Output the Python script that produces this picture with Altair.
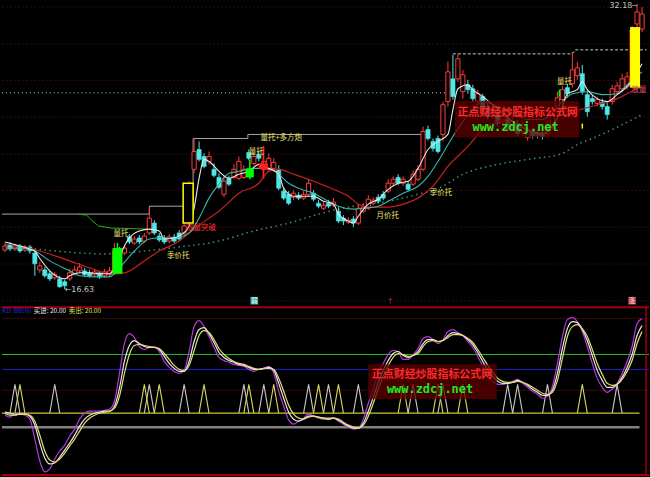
import altair as alt
import numpy as np
import pandas as pd

# ---------------- daily bars ----------------
OPEN = [18.76, 19.04, 18.82, 18.98, 18.76, 18.93, 18.60, 17.68, 17.68, 17.47,
        17.25, 17.19, 17.03, 17.19, 17.47, 17.63, 17.63, 17.52, 17.41, 17.52,
        17.36, 17.41, 17.52, 18.82, 18.60, 19.47, 19.14, 19.42, 19.25, 19.69,
        20.23, 19.52, 19.42, 19.25, 19.47, 19.69, 19.69, 20.28, 23.16, 24.24,
        23.86, 23.59, 23.16, 22.72, 21.80, 22.67, 22.72, 22.67, 22.72, 24.08,
        23.48, 23.97, 23.16, 23.16, 23.21, 23.16, 21.97, 21.80, 21.64, 21.75,
        21.59, 21.80, 21.86, 21.31, 21.04, 21.31, 21.21, 20.88, 20.50, 20.28,
        20.45, 20.23, 20.88, 21.04, 21.31, 21.64, 21.80, 21.97, 22.40, 22.72,
        22.40, 22.35, 22.35, 22.62, 23.16, 25.33, 24.68, 24.84, 25.06, 26.85,
        28.09, 28.09, 27.39, 27.77, 27.55, 26.85, 27.12, 26.58, 26.09, 26.20,
        25.76, 25.87, 25.44, 25.65, 25.22, 24.89, 25.22, 25.16, 25.11, 25.11,
        25.54, 26.30, 26.96, 27.61, 27.82, 28.26, 28.37, 27.23, 27.01, 26.74,
        26.79, 26.58, 26.85, 27.39, 27.55, 27.66, 27.71, 31.08, 30.80]
HIGH = [19.14, 19.20, 19.09, 19.09, 19.04, 19.04, 18.82, 18.12, 17.84, 17.63,
        17.57, 17.36, 17.14, 17.74, 17.90, 18.06, 17.79, 17.68, 17.74, 17.63,
        17.74, 17.84, 19.14, 18.93, 19.04, 19.63, 19.52, 19.58, 19.69, 21.04,
        20.39, 19.69, 19.58, 19.63, 19.63, 19.85, 20.23, 22.51, 24.84, 24.68,
        24.03, 24.13, 23.48, 22.94, 22.78, 22.83, 23.43, 23.86, 23.38, 24.24,
        24.13, 24.13, 24.41, 24.03, 23.76, 23.38, 22.18, 21.97, 22.02, 21.91,
        21.97, 22.62, 22.02, 21.48, 21.37, 21.48, 21.59, 21.10, 20.66, 20.55,
        20.61, 21.26, 21.31, 21.75, 21.64, 21.80, 21.97, 22.62, 22.78, 22.89,
        22.78, 22.51, 23.10, 23.38, 25.49, 25.54, 24.84, 25.00, 26.85, 29.02,
        29.40, 29.45, 28.58, 28.04, 27.77, 27.50, 27.28, 26.85, 26.63, 26.41,
        26.30, 26.09, 25.98, 25.87, 25.76, 25.49, 25.38, 25.33, 25.27, 25.76,
        26.41, 27.39, 27.71, 27.82, 29.56, 29.02, 28.85, 27.44, 27.17, 27.12,
        27.01, 26.79, 27.77, 27.93, 28.37, 28.47, 30.97, 32.18, 32.00]
LOW = [18.66, 18.71, 18.71, 18.60, 18.66, 18.55, 17.36, 17.52, 17.25, 17.08,
       17.14, 16.71, 16.63, 17.08, 17.36, 17.52, 17.30, 17.25, 17.30, 17.19,
       17.25, 17.30, 17.41, 18.39, 18.49, 19.09, 19.04, 19.09, 19.14, 19.58,
       19.58, 19.20, 19.09, 19.14, 19.14, 19.25, 19.58, 20.18, 22.94, 23.59,
       23.21, 23.43, 22.72, 22.07, 21.64, 22.24, 22.62, 22.56, 22.62, 23.65,
       23.38, 23.59, 22.67, 23.05, 23.05, 22.02, 21.48, 21.21, 21.48, 21.48,
       21.48, 21.69, 21.42, 21.04, 20.94, 21.04, 21.10, 20.23, 20.12, 20.18,
       20.01, 20.12, 20.77, 20.94, 21.21, 21.31, 21.48, 21.86, 22.24, 22.29,
       22.24, 21.97, 22.24, 22.51, 23.05, 24.73, 24.13, 24.03, 24.68, 26.58,
       26.96, 27.93, 27.01, 27.28, 26.85, 26.63, 26.20, 25.87, 25.92, 25.49,
       25.54, 25.22, 25.22, 24.95, 25.00, 24.73, 24.84, 24.84, 24.79, 24.95,
       25.33, 26.14, 26.74, 27.06, 27.61, 28.04, 27.23, 26.03, 26.68, 26.58,
       26.41, 25.87, 26.68, 27.28, 27.39, 27.50, 27.61, 30.86, 30.64]
CLOSE = [18.98, 18.82, 18.98, 18.71, 18.93, 18.71, 18.01, 17.90, 17.36, 17.19,
         17.41, 16.76, 16.81, 17.52, 17.68, 17.84, 17.41, 17.36, 17.57, 17.30,
         17.57, 17.63, 18.71, 18.55, 18.87, 19.20, 19.36, 19.20, 19.52, 20.50,
         19.69, 19.31, 19.20, 19.47, 19.25, 19.36, 20.07, 22.35, 24.13, 23.70,
         23.32, 23.86, 22.83, 22.18, 22.51, 22.35, 23.16, 23.59, 23.16, 23.76,
         23.86, 23.76, 23.59, 23.76, 23.54, 22.13, 21.59, 21.31, 21.86, 21.59,
         21.80, 22.40, 21.53, 21.15, 21.21, 21.15, 21.37, 20.34, 20.34, 20.39,
         20.23, 21.04, 21.10, 21.53, 21.48, 21.42, 21.59, 22.40, 22.62, 22.40,
         22.62, 22.07, 22.89, 23.16, 25.22, 24.84, 24.30, 24.13, 26.68, 28.47,
         27.12, 29.18, 28.31, 27.50, 27.01, 27.28, 26.41, 26.03, 26.41, 25.65,
         26.09, 25.33, 25.76, 25.11, 25.54, 25.22, 25.00, 25.00, 24.95, 25.54,
         26.20, 27.06, 27.50, 27.28, 28.58, 28.69, 27.39, 26.30, 26.85, 26.96,
         26.58, 26.14, 27.55, 27.71, 28.09, 28.20, 30.75, 31.73, 31.62]

# ---------------- moving averages (bar index, price) ----------------
MA5_I = [0, 3, 5, 6, 7, 9, 11, 12, 13, 15, 17, 19, 21, 23, 24, 25, 27, 29, 31, 32,
         34, 35, 37, 38, 39, 40, 41, 43, 45, 47, 49, 51, 53, 55, 56, 58, 60, 62, 64, 66,
         67, 69, 70, 71, 73, 75, 77, 79, 81, 83, 85, 87, 89, 90, 91, 93, 94, 96, 98, 100,
         102, 104, 106, 108, 110, 112, 113, 115, 116, 117, 119, 121, 123, 125, 128]
MA5_V = [19.20, 18.98, 18.82, 18.71, 18.30, 17.63, 17.25, 17.19, 17.36, 17.52,
         17.52, 17.47, 17.47, 18.33, 18.98, 19.42, 19.80, 19.90, 19.80, 19.36,
         19.42, 19.52, 20.07, 21.04, 22.67, 23.70, 23.59, 23.05, 22.67, 22.89,
         23.05, 23.43, 23.21, 22.89, 22.13, 21.69, 21.69, 21.69, 21.42, 21.26,
         20.72, 20.34, 20.23, 20.61, 21.26, 21.53, 22.07, 22.40, 22.51, 23.21,
         24.24, 24.68, 25.06, 26.41, 27.55, 27.77, 27.50, 27.12, 26.68, 26.20,
         25.76, 25.44, 25.22, 25.11, 25.49, 26.58, 27.28, 27.50, 27.93, 27.50,
         27.01, 26.85, 27.23, 27.66, 28.91]
MA10_I = [0, 3, 6, 9, 13, 15, 18, 21, 23, 26, 29, 31, 34, 37, 39, 41, 43, 45, 47, 50,
          53, 55, 57, 59, 62, 65, 67, 70, 72, 75, 77, 80, 83, 85, 87, 90, 92, 94, 96, 99,
          102, 105, 108, 111, 114, 117, 120, 123, 125, 128]
MA10_V = [18.87, 18.87, 18.71, 18.17, 17.63, 17.36, 17.30, 17.30, 17.79, 18.71,
          19.36, 19.42, 19.42, 19.69, 20.50, 21.59, 22.35, 22.94, 23.05, 23.21,
          23.21, 22.89, 22.40, 22.13, 21.86, 21.42, 21.15, 20.99, 21.04, 21.15,
          21.42, 21.86, 22.24, 22.78, 23.59, 24.95, 25.76, 26.41, 26.85, 26.58,
          26.20, 25.87, 25.87, 26.58, 27.28, 27.39, 27.23, 27.28, 27.77, 28.47]
MA30_I = [0, 3, 7, 13, 17, 21, 24, 28, 31, 35, 37, 41, 43, 47, 51, 53, 55, 58, 62, 66,
          69, 71, 73, 77, 80, 83, 86, 89, 93, 96, 100, 104, 109, 113, 119, 123, 127, 128]
MA30_V = [19.09, 18.98, 18.71, 18.17, 17.79, 17.47, 17.52, 18.17, 18.71, 19.25,
          19.69, 20.50, 20.88, 21.86, 22.40, 23.05, 23.16, 22.89, 22.51, 22.07,
          21.69, 21.26, 21.10, 21.10, 21.26, 21.59, 22.24, 23.32, 24.41, 25.33,
          25.87, 26.14, 26.30, 26.30, 26.68, 27.01, 27.55, 27.66]
MA60_I = [0, 10, 20, 28, 35, 43, 50, 57, 63, 70, 77, 83, 87, 92, 99, 105, 112, 115, 118, 122, 128]
MA60_V = [19.04, 18.71, 18.55, 18.71, 18.93, 19.25, 19.80, 20.23, 20.72, 21.15,
          21.42, 21.80, 22.10, 22.89, 23.43, 23.70, 24.03, 24.51, 24.84, 25.33, 26.14]

# ---------------- support / pressure levels ----------------
STEP_I = [-0.6, 29, 29, 37.8, 37.8, 48.8, 48.8, 83.8]
STEP_P = [20.72, 20.72, 21.15, 21.15, 24.84, 24.84, 25.06, 25.06]
TOPSTEP_I = [90, 114, 114.6, 128.9]
TOPSTEP_P = [29.45, 29.45, 29.67, 29.67]
SUPPORT_I = [14.8, 16.4, 17.4, 18.8, 21.4, 28.8]
SUPPORT_P = [20.72, 20.66, 20.39, 20.07, 19.96, 19.90]
PREV_HIGH = 27.33
PREV_HIGH_END = 91
GRID_P = [16, 18, 20, 22, 24, 26, 28, 30, 32]

# ---------------- signal boxes ----------------
BOX_I0 = [21.6, 48.4, 51.0, 125.6]
BOX_I1 = [23.6, 50.0, 52.8, 127.6]
BOX_LO = [17.47, 22.72, 23.16, 27.61]
BOX_HI = [18.87, 23.21, 23.48, 30.91]
BOX_COL = ["#00ff00", "#00ff00", "#ff2020", "#ffff00"]
BOX_WICK_I = [22.6, 49.2, 51.9]
BOX_WICK_LO = [18.87, 22.62, 22.67]
BOX_WICK_HI = [19.14, 23.70, 24.41]
BOX_WICK_COL = ["#00ff00", "#00ff00", "#ff2020"]
OUTLINE_I0, OUTLINE_I1, OUTLINE_LO, OUTLINE_HI = 35.8, 37.8, 20.23, 22.40

# ---------------- annotations ----------------
LABEL_TEXT = ["量托", "季价托", "放量突破", "量托+多方炮", "量托", "月价托", "季价托", "量托", "放量"]
LABEL_I = [23.3, 34.8, 39.4, 55.5, 50.5, 76.9, 87.6, 112.4, 127.4]
LABEL_P = [19.63, 18.44, 19.96, 24.84, 24.13, 20.61, 21.86, 27.93, 27.50]
LABEL_COL = ["#e8e070", "#e8e070", "#ff3030", "#e8e070", "#e8e070", "#e8e070",
             "#e8e070", "#e8e070", "#e05060"]

# ---------------- KDJ panel ----------------
KDJ_J = [18, 16, 20, 19, 18, 14, -6, -28, -39, -36, -26, -18, -12, -3, 4, 14, 20, 22, 22, 22,
         23, 24, 32, 60, 90, 100, 96, 87, 84, 86, 87, 82, 72, 66, 62, 60, 63, 82, 107, 113,
         107, 97, 86, 76, 73, 71, 69, 68, 67, 64, 62, 64, 65, 67, 60, 42, 27, 13, 9, 12,
         15, 19, 17, 15, 14, 14, 15, 12, 9, 6, 4, 5, 14, 30, 44, 60, 70, 79, 83, 82,
         74, 74, 79, 85, 95, 97, 94, 90, 94, 102, 104, 101, 98, 92, 86, 77, 67, 57, 52, 49,
         49, 50, 52, 54, 50, 46, 42, 39, 35, 37, 47, 70, 97, 114, 116, 112, 102, 87, 70, 55,
         46, 41, 44, 50, 60, 72, 87, 110, 115]
KDJ_K = [20, 18, 18, 19, 19, 17, 8, -10, -25, -31, -30, -24, -17, -10, -2, 7, 14, 18, 20, 21,
         22, 22, 27, 45, 72, 88, 93, 90, 87, 86, 86, 84, 77, 70, 65, 62, 62, 72, 92, 104,
         106, 100, 91, 81, 76, 73, 71, 69, 68, 66, 64, 64, 65, 66, 63, 50, 35, 21, 14, 12,
         14, 17, 17, 16, 15, 14, 15, 13, 10, 7, 5, 5, 10, 22, 36, 51, 63, 73, 80, 82,
         78, 76, 78, 82, 90, 94, 94, 92, 93, 98, 101, 100, 98, 94, 89, 81, 72, 63, 57, 52,
         50, 50, 51, 53, 51, 48, 44, 41, 38, 38, 43, 60, 85, 105, 112, 111, 104, 93, 78, 63,
         53, 46, 46, 49, 56, 66, 79, 98, 108]
KDJ_D = [21, 20, 19, 19, 19, 18, 12, -2, -18, -27, -29, -26, -20, -13, -6, 2, 10, 15, 18, 20,
         21, 22, 25, 37, 60, 79, 88, 89, 88, 87, 86, 85, 80, 74, 68, 64, 63, 68, 83, 98,
         103, 101, 94, 85, 79, 75, 72, 70, 69, 67, 65, 64, 65, 65, 64, 55, 42, 28, 19, 15,
         14, 16, 17, 16, 15, 15, 15, 14, 11, 8, 6, 5, 8, 17, 30, 44, 57, 68, 76, 80,
         79, 77, 78, 80, 87, 92, 93, 92, 93, 96, 99, 99, 98, 95, 91, 84, 76, 68, 61, 55,
         52, 51, 51, 52, 51, 49, 46, 43, 40, 39, 41, 53, 75, 97, 107, 109, 105, 97, 84, 70,
         59, 50, 48, 49, 54, 62, 73, 90, 102]
BUY_SIGNALS = [2, 10, 29, 36, 48, 52, 61, 65, 71, 82, 88, 101, 103, 109, 123]
SELL_SIGNALS = [3, 28, 31, 40, 49, 54, 63, 67, 80, 87, 92, 116]
SIGNAL_BASE, SIGNAL_TOP = 20, 49
BUY_LEVEL, SELL_LEVEL = 20.00, 20.00
LEVEL_V = [115, 79, 64, 43]
LEVEL_COL = ["#3a0808", "#20c020", "#2020d0", "#3a0808"]

# ---------------- layout ----------------
W, H_TOP, H_BOT = 650, 305, 172
xs = alt.Scale(domain=[-0.6, 129.4], nice=False, zero=False)
ps = alt.Scale(domain=[15.729, 32.271], nice=False, zero=False)
ks = alt.Scale(domain=[-45, 127], nice=False, zero=False)
RED, CYAN = "#ff3c3c", "#4fe8e8"
CJK = "Noto Sans CJK SC"


def X(f):
    return alt.X(f, scale=xs, axis=None)


def Y(f):
    return alt.Y(f, scale=ps, axis=None)


def K(f):
    return alt.Y(f, scale=ks, axis=None)


bars = pd.DataFrame({"i": np.arange(len(OPEN)), "o": OPEN, "h": HIGH, "l": LOW, "c": CLOSE})
bars["bt"] = bars[["o", "c"]].max(axis=1)
bars["bb"] = bars[["o", "c"]].min(axis=1)
bars["xl"] = bars["i"] - 0.42
bars["xr"] = bars["i"] + 0.42
up = bars[bars.c >= bars.o]
down = bars[bars.c < bars.o]

grid = alt.Chart(pd.DataFrame({"p": GRID_P})).mark_rule(
    color="#3a0808", strokeWidth=1, strokeDash=[2, 2]).encode(y=Y("p:Q"))
prev_high = alt.Chart(pd.DataFrame({"a": [-0.6], "b": [PREV_HIGH_END], "p": [PREV_HIGH]})).mark_rule(
    color="#d0d0d0", strokeWidth=1, strokeDash=[1, 3]).encode(x=X("a:Q"), x2="b:Q", y=Y("p:Q"))


def path(ix, vals, color, dash=None, width=1.0, interp="linear"):
    df = pd.DataFrame({"i": ix, "v": vals, "o": np.arange(len(ix))})
    kw = dict(color=color, strokeWidth=width, interpolate=interp)
    if dash:
        kw["strokeDash"] = dash
    return alt.Chart(df).mark_line(**kw).encode(x=X("i:Q"), y=Y("v:Q"), order="o:Q")


step = path(STEP_I, STEP_P, "#a8a8a8")
topstep = path(TOPSTEP_I, TOPSTEP_P, "#c8c8c8", dash=[3, 2])
support = path(SUPPORT_I, SUPPORT_P, "#20b020")
ma60 = path(MA60_I, MA60_V, "#3f8f6f", dash=[1.5, 3.5], width=1.5, interp="monotone")

wick_up = alt.Chart(up).mark_rule(color=RED, strokeWidth=1).encode(x=X("i:Q"), y=Y("l:Q"), y2="h:Q")
wick_dn = alt.Chart(down).mark_rule(color=CYAN, strokeWidth=1).encode(x=X("i:Q"), y=Y("l:Q"), y2="h:Q")
body_up = alt.Chart(up).mark_rect(fill="black", stroke=RED, strokeWidth=1).encode(
    x=X("xl:Q"), x2="xr:Q", y=Y("bb:Q"), y2="bt:Q")
body_dn = alt.Chart(down).mark_rect(fill=CYAN, stroke=CYAN, strokeWidth=0.6).encode(
    x=X("xl:Q"), x2="xr:Q", y=Y("bb:Q"), y2="bt:Q")

ma30 = path(MA30_I, MA30_V, "#c82020", width=1.2, interp="monotone")
ma10 = path(MA10_I, MA10_V, "#38b8a8", width=1.1, interp="monotone")
ma5 = path(MA5_I, MA5_V, "#e8e8e8", width=1.1, interp="monotone")

boxes = alt.Chart(pd.DataFrame({"a": BOX_I0, "b": BOX_I1, "lo": BOX_LO, "hi": BOX_HI, "c": BOX_COL})).mark_rect().encode(
    x=X("a:Q"), x2="b:Q", y=Y("lo:Q"), y2="hi:Q", fill=alt.Color("c:N", scale=None))
box_wicks = alt.Chart(pd.DataFrame({"i": BOX_WICK_I, "lo": BOX_WICK_LO, "hi": BOX_WICK_HI, "c": BOX_WICK_COL})).mark_rule(
    strokeWidth=1.5).encode(x=X("i:Q"), y=Y("lo:Q"), y2="hi:Q", color=alt.Color("c:N", scale=None))
outline = alt.Chart(pd.DataFrame({"a": [OUTLINE_I0], "b": [OUTLINE_I1], "lo": [OUTLINE_LO], "hi": [OUTLINE_HI]})).mark_rect(
    fill="black", stroke="#ffff00", strokeWidth=1.5).encode(x=X("a:Q"), x2="b:Q", y=Y("lo:Q"), y2="hi:Q")
sticks = alt.Chart(pd.DataFrame({"i": [111.4, 116.0], "lo": [27.12, 25.38], "hi": [27.50, 25.65],
                                 "c": ["#00ff00", "#ffff00"]})).mark_rule(strokeWidth=1.5).encode(
    x=X("i:Q"), y=Y("lo:Q"), y2="hi:Q", color=alt.Color("c:N", scale=None))

labels = alt.Chart(pd.DataFrame({"i": LABEL_I, "p": LABEL_P, "t": LABEL_TEXT, "c": LABEL_COL})).mark_text(
    font=CJK, fontSize=7.5, align="center", baseline="middle").encode(
    x=X("i:Q"), y=Y("p:Q"), text="t:N", color=alt.Color("c:N", scale=None))

lo_i = int(np.argmin(LOW))
hi_i = int(np.argmax(HIGH))
low_tag = alt.Chart(pd.DataFrame({"i": [lo_i], "p": [LOW[lo_i]], "t": [f"←{LOW[lo_i]:.2f}"]})).mark_text(
    font="DejaVu Sans", fontSize=8, align="left", baseline="top", color="#c8c8c8", dy=-3).encode(
    x=X("i:Q"), y=Y("p:Q"), text="t:N")
high_tag = alt.Chart(pd.DataFrame({"i": [hi_i], "p": [HIGH[hi_i]], "t": [f"{HIGH[hi_i]:.2f}─"]})).mark_text(
    font="DejaVu Sans", fontSize=8, align="right", baseline="middle", color="#c8c8c8", dy=2).encode(
    x=X("i:Q"), y=Y("p:Q"), text="t:N")

marks_sq = alt.Chart(pd.DataFrame({"i": [50.1, 126.0], "p": [16.0, 16.0], "c": ["#3aa0a0", "#b03848"]})).mark_square(
    size=60, opacity=1).encode(x=X("i:Q"), y=Y("p:Q"), color=alt.Color("c:N", scale=None))
marks_tx = alt.Chart(pd.DataFrame({"i": [50.1, 77.4, 126.0], "p": [16.0, 15.95, 16.0], "t": ["弱", "↑", "涨"],
                                   "c": ["#e0ffff", "#ff3030", "#ffe0e0"]})).mark_text(
    font=CJK, fontSize=6.5, align="center", baseline="middle").encode(
    x=X("i:Q"), y=Y("p:Q"), text="t:N", color=alt.Color("c:N", scale=None))


def watermark(scale, i0, i1, v0, v1, ri, rv, gi, gv):
    yenc = (lambda f: alt.Y(f, scale=scale, axis=None))
    box = alt.Chart(pd.DataFrame({"a": [i0], "b": [i1], "lo": [v0], "hi": [v1]})).mark_rect(
        fill="#5a0000", opacity=0.78).encode(x=X("a:Q"), x2="b:Q", y=yenc("lo:Q"), y2="hi:Q")
    red = alt.Chart(pd.DataFrame({"i": [ri], "v": [rv], "t": ["正点财经炒股指标公式网"]})).mark_text(
        font=CJK, fontSize=11, fontWeight="bold", color="#ff2a2a", align="center", baseline="middle").encode(
        x=X("i:Q"), y=yenc("v:Q"), text="t:N")
    green = alt.Chart(pd.DataFrame({"i": [gi], "v": [gv], "t": ["www.zdcj.net"]})).mark_text(
        font="DejaVu Sans Mono", fontSize=12, fontWeight="bold", color="#20e820", align="center",
        baseline="middle").encode(x=X("i:Q"), y=yenc("v:Q"), text="t:N")
    return box + red + green


wm_top = watermark(ps, 90.4, 115.4, 24.89, 26.90, 103.0, 26.25, 102.6, 25.49)

top = alt.layer(grid, prev_high, step, topstep, support, ma60, wick_up, wick_dn, body_up, body_dn,
                ma30, ma10, ma5, boxes, box_wicks, outline, sticks, labels, low_tag, high_tag,
                marks_sq, marks_tx, wm_top).properties(width=W, height=H_TOP)

# ---------------- lower panel ----------------
levels = alt.Chart(pd.DataFrame({"v": LEVEL_V, "c": LEVEL_COL})).mark_rule(strokeWidth=1).encode(
    y=K("v:Q"), color=alt.Color("c:N", scale=None))
base_lines = alt.Chart(pd.DataFrame({"a": [-0.6, -0.6], "b": [127.5, 127.5], "v": [BUY_LEVEL, 6],
                                     "c": ["#c8c830", "#808080"], "w": [1.2, 2.5]})).mark_rule().encode(
    x=X("a:Q"), x2="b:Q", y=K("v:Q"), color=alt.Color("c:N", scale=None),
    strokeWidth=alt.StrokeWidth("w:Q", scale=None))

rows = []
for kind, sig in (("buy", BUY_SIGNALS), ("sell", SELL_SIGNALS)):
    for n, s in enumerate(sig):
        for dx, v in ((-1, SIGNAL_BASE), (0, SIGNAL_TOP), (1, SIGNAL_BASE)):
            rows.append({"g": f"{kind}{n}", "kind": kind, "i": s + dx, "v": v, "o": dx})
spk = pd.DataFrame(rows)
spikes_b = alt.Chart(spk[spk.kind == "buy"]).mark_line(color="#c8c8c8", strokeWidth=1.1).encode(
    x=X("i:Q"), y=K("v:Q"), detail="g:N", order="o:Q")
spikes_s = alt.Chart(spk[spk.kind == "sell"]).mark_line(color="#d8d860", strokeWidth=1.1).encode(
    x=X("i:Q"), y=K("v:Q"), detail="g:N", order="o:Q")


def kline(vals, color):
    df = pd.DataFrame({"i": np.arange(len(vals)), "v": vals})
    return alt.Chart(df).mark_line(color=color, strokeWidth=1.2, interpolate="monotone").encode(
        x=X("i:Q"), y=K("v:Q"))


j_line = kline(KDJ_J, "#b838d8")
k_line = kline(KDJ_K, "#e8e8e8")
d_line = kline(KDJ_D, "#e0e070")

frame = alt.Chart(pd.DataFrame({"v": [126.4, -42.0], "c": ["#a00010", "#a00010"]})).mark_rule(strokeWidth=2).encode(
    y=K("v:Q"), color=alt.Color("c:N", scale=None))
right_edge = alt.Chart(pd.DataFrame({"i": [128.8], "a": [-42.0], "b": [126.4]})).mark_rule(
    color="#a00010", strokeWidth=1.5).encode(x=X("i:Q"), y=K("a:Q"), y2="b:Q")

head = alt.Chart(pd.DataFrame({
    "i": [-0.6, 5.8, 12.8], "v": [123, 123, 123],
    "t": ["KD: BB(N)", f"买进: {BUY_LEVEL:.2f}", f"卖出: {SELL_LEVEL:.2f}"],
    "c": ["#2828d0", "#e8e8e8", "#e0e060"]})).mark_text(
    font=CJK, fontSize=6.5, align="left", baseline="middle").encode(
    x=X("i:Q"), y=K("v:Q"), text="t:N", color=alt.Color("c:N", scale=None))

wm_bot = watermark(ks, 73.0, 98.8, 34, 69, 85.8, 58, 85.4, 44)

bottom = alt.layer(levels, base_lines, spikes_b, spikes_s, j_line, k_line, d_line, frame, right_edge,
                   head, wm_bot).properties(width=W, height=H_BOT)

chart = alt.vconcat(top, bottom, spacing=0).properties(
    background="black", padding=0
).configure_view(stroke=None)

chart.save("out.html", embed_options={"renderer": "svg", "actions": False})
